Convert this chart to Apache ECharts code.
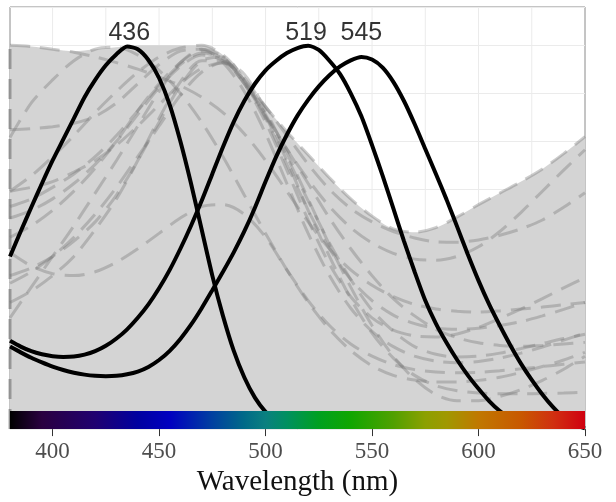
<!DOCTYPE html>
<html><head><meta charset="utf-8">
<script src="https://cdn.jsdelivr.net/npm/echarts@6/dist/echarts.min.js"></script>
<style>html,body{margin:0;padding:0;background:#fff}#c{width:616px;height:502px}</style>
</head><body><div id="c"></div>
<script>
// wavelength grid (10 nm) for the gray envelope and dashed curves
const wl = [380,390,400,410,420,430,440,450,460,470,480,490,500,510,520,530,540,550,560,570,580,590,600,610,620,630,640,650];
const grayTop = [1.0,0.997,0.99,0.985,0.99,0.995,1.0,1.0,1.0,1.0,0.975,0.915,0.84,0.775,0.715,0.655,0.6,0.555,0.522,0.513,0.525,0.553,0.585,0.615,0.645,0.678,0.718,0.762];
const dash1  = [1.0,0.997,0.99,0.982,0.97,0.955,0.938,0.918,0.895,0.865,0.825,0.77,0.70,0.62,0.54,0.47,0.415,0.375,0.345,0.325,0.313,0.307,0.305,0.308,0.313,0.318,0.324,0.33];
const dash2  = [0.62,0.66,0.71,0.765,0.825,0.88,0.93,0.97,0.993,1.0,0.975,0.915,0.84,0.775,0.715,0.655,0.6,0.555,0.522,0.513,0.525,0.553,0.585,0.615,0.645,0.678,0.718,0.762];
const dash3  = [0.76,0.85,0.91,0.96,0.99,0.995,0.975,0.935,0.875,0.8,0.71,0.61,0.51,0.415,0.33,0.26,0.205,0.165,0.14,0.128,0.123,0.123,0.127,0.135,0.148,0.163,0.18,0.2];
const dash4  = [0.78,0.783,0.788,0.797,0.815,0.85,0.9,0.95,0.985,0.99,0.955,0.88,0.77,0.64,0.51,0.4,0.315,0.255,0.215,0.19,0.177,0.173,0.176,0.185,0.198,0.214,0.232,0.25];
const dash5  = [0.46,0.425,0.405,0.4,0.41,0.435,0.47,0.51,0.55,0.58,0.585,0.56,0.5,0.415,0.335,0.27,0.222,0.19,0.168,0.155,0.149,0.147,0.148,0.152,0.157,0.163,0.169,0.175];
const dash6  = [0.29,0.37,0.45,0.53,0.615,0.7,0.79,0.88,0.955,0.99,0.97,0.905,0.82,0.71,0.595,0.485,0.39,0.31,0.255,0.215,0.195,0.188,0.19,0.198,0.21,0.223,0.236,0.247];
const dash7  = [0.33,0.36,0.4,0.45,0.52,0.6,0.7,0.81,0.905,0.96,0.96,0.9,0.8,0.675,0.545,0.43,0.345,0.29,0.258,0.243,0.24,0.248,0.265,0.288,0.313,0.34,0.368,0.395];
const dash8  = [0.40,0.42,0.45,0.49,0.54,0.61,0.7,0.8,0.895,0.96,0.97,0.91,0.815,0.7,0.57,0.45,0.34,0.25,0.185,0.14,0.113,0.1,0.094,0.092,0.092,0.093,0.094,0.096];
const dash9  = [0.5,0.53,0.57,0.62,0.68,0.75,0.83,0.9,0.955,0.985,0.965,0.9,0.815,0.73,0.65,0.58,0.525,0.485,0.458,0.443,0.44,0.45,0.475,0.515,0.565,0.62,0.675,0.728];
const dash10 = [0.55,0.57,0.6,0.64,0.69,0.75,0.82,0.89,0.945,0.975,0.96,0.91,0.84,0.765,0.69,0.625,0.575,0.54,0.515,0.498,0.488,0.487,0.493,0.505,0.522,0.545,0.578,0.616];
const dash11 = [0.58,0.6,0.63,0.665,0.71,0.765,0.83,0.895,0.95,0.98,0.965,0.905,0.81,0.69,0.57,0.47,0.39,0.335,0.297,0.275,0.263,0.26,0.263,0.27,0.28,0.295,0.312,0.33];
const dash12 = [0.38,0.41,0.45,0.5,0.56,0.63,0.71,0.79,0.87,0.93,0.955,0.925,0.83,0.72,0.6,0.48,0.37,0.27,0.19,0.13,0.09,0.074,0.074,0.085,0.103,0.127,0.156,0.19];
const dash13 = [0.62,0.63,0.645,0.67,0.7,0.74,0.79,0.845,0.9,0.94,0.955,0.9,0.82,0.73,0.64,0.55,0.47,0.4,0.34,0.295,0.26,0.238,0.225,0.218,0.216,0.218,0.222,0.226];
const edgeWl = [380,380];
const edgeVal = [0,1.0];

// black cone curves on a 5 nm grid starting at 380
const wl5 = [380,385,390,395,400,405,410,415,420,425,430,435,440,445,450,455,460,465,470,475,480,485,490,495,500,505,510,515,520,525,530,535,540,545,550,555,560,565,570,575,580,585,590,595,600,605,610,615,620,625,630,635,640,645,650];
const sVal = [0.45,0.515,0.578,0.64,0.70,0.755,0.81,0.865,0.91,0.948,0.977,0.997,0.99,0.962,0.915,0.845,0.75,0.64,0.52,0.40,0.295,0.205,0.135,0.082,0.045,0.02,0.005];
const mVal = [0.23,0.215,0.203,0.195,0.19,0.188,0.189,0.194,0.203,0.217,0.236,0.26,0.29,0.325,0.367,0.415,0.47,0.53,0.595,0.665,0.735,0.80,0.855,0.90,0.935,0.96,0.98,0.993,0.999,0.988,0.96,0.925,0.875,0.815,0.74,0.66,0.575,0.49,0.41,0.335,0.275,0.225,0.18,0.14,0.105,0.073,0.047,0.028,0.014,0.005];
const lVal = [0.215,0.2,0.186,0.174,0.163,0.154,0.147,0.142,0.139,0.138,0.139,0.143,0.15,0.162,0.18,0.204,0.235,0.272,0.315,0.362,0.41,0.46,0.515,0.577,0.645,0.71,0.767,0.817,0.858,0.893,0.922,0.945,0.961,0.97,0.963,0.942,0.905,0.855,0.795,0.73,0.665,0.598,0.527,0.455,0.387,0.325,0.27,0.218,0.17,0.128,0.09,0.057,0.03,0.012,0.002];

const peakWl = [436,519,545];
const peakLabels = ['436','519','545'];
const xTicks = [400,450,500,550,600,650];
const gridX = [400,425,450,475,500,525,550,575,600,625];
const specWl  = [380,395,420,440,455,475,490,500,510,525,540,560,575,585,600,620,635,650];
const specCol = ['#000000','#2a0040','#200070','#0000a0','#0000c0','#0040a0','#006a88','#0a8080','#009060','#00a020','#10a600','#50a000','#8ca000','#a09800','#c07800','#c85800','#d03010','#d00010'];
const barTop = 0.047;

const zip = (xs, ys) => ys.map((y, i) => [xs[i], y]);
const series = [];
gridX.forEach(x => series.push({
  type: 'line', data: [[x, 0], [x, 1.1]], symbol: 'none', silent: true, z: 1,
  lineStyle: { color: '#ebebeb', width: 1 }
}));
series.push({
  type: 'line', data: zip(wl, grayTop), symbol: 'none', silent: true, z: 2, smooth: 0.3,
  lineStyle: { width: 0 }, areaStyle: { color: '#d4d4d4', opacity: 1 }
});
[dash1,dash2,dash3,dash4,dash5,dash6,dash7,dash8,dash9,dash10,dash11,dash12,dash13].forEach(d => series.push({
  type: 'line', data: zip(wl, d), symbol: 'none', silent: true, z: 3, smooth: 0.3,
  lineStyle: { color: 'rgba(120,120,120,0.38)', width: 3, type: [20, 10] }
}));
series.push({
  type: 'line', data: zip(edgeWl, edgeVal), symbol: 'none', silent: true, z: 3,
  lineStyle: { color: 'rgba(110,110,110,0.6)', width: 3, type: [20, 10] }
});
[sVal, mVal, lVal].forEach(ys => series.push({
  type: 'line', data: zip(wl5, ys), symbol: 'none', silent: true, z: 4, smooth: 0.25,
  lineStyle: { color: '#000', width: 4 }
}));
series.push({
  type: 'line', data: [], symbol: 'none', silent: true, z: 5,
  markArea: {
    silent: true, z: 10,
    itemStyle: {
      color: { type: 'linear', x: 0, y: 0, x2: 1, y2: 0,
        colorStops: specWl.map((w, i) => ({ offset: (w - 380) / 270, color: specCol[i] })) }
    },
    data: [[{ xAxis: 380, yAxis: 0 }, { xAxis: 650, yAxis: barTop }]]
  }
});
series.push({
  type: 'scatter', data: peakWl.map((w, i) => ({ value: [w, 1.0], label: { formatter: peakLabels[i] } })),
  symbolSize: 0, silent: true, z: 6,
  label: { show: true, position: 'top', distance: 0, color: '#000', fontSize: 25,
    fontFamily: 'Liberation Sans, Arial, sans-serif' }
});

const chart = echarts.init(document.getElementById('c'), null, { renderer: 'canvas' });
chart.setOption({
  animation: false,
  backgroundColor: '#ffffff',
  grid: { left: 10, right: 31, top: 7, bottom: 72, show: true, borderColor: '#8a8a8a', borderWidth: 1, backgroundColor: 'transparent' },
  xAxis: {
    type: 'value', min: 380, max: 650,
    splitLine: { show: false },
    axisLine: { show: false },
    axisTick: { show: true, customValues: xTicks, length: 7, lineStyle: { color: '#333', width: 1 } },
    axisLabel: { customValues: xTicks, color: '#4d4d4d', fontSize: 23, margin: 11,
      fontFamily: 'Liberation Serif, Times New Roman, serif' },
    name: 'Wavelength (nm)', nameLocation: 'middle', nameGap: 33,
    nameTextStyle: { fontSize: 29, color: '#111', fontFamily: 'Liberation Serif, Times New Roman, serif' }
  },
  yAxis: {
    type: 'value', min: 0, max: 1.1, interval: 0.125,
    splitLine: { show: true, lineStyle: { color: '#ebebeb', width: 1 } },
    axisLine: { show: false }, axisTick: { show: false }, axisLabel: { show: false }
  },
  series
});
</script></body></html>
